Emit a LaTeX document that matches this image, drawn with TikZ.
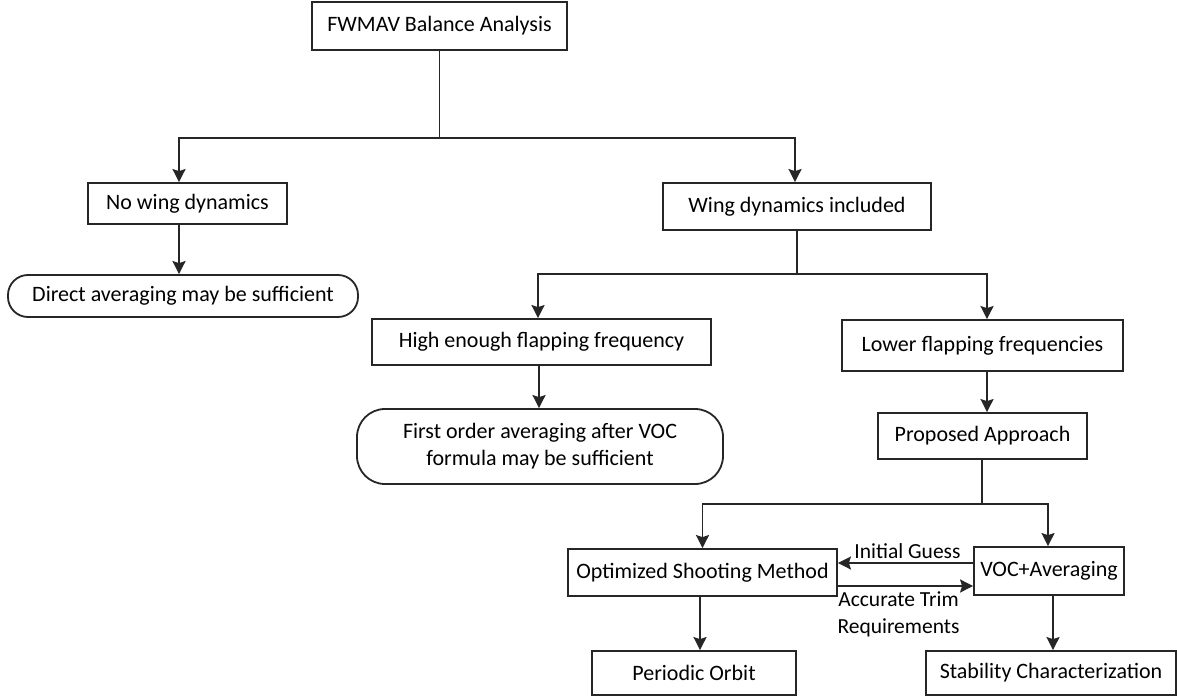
\documentclass[tikz,border=0pt]{standalone}
\usepackage{fontspec}
\setmainfont{Carlito}
\usetikzlibrary{arrows.meta,calc}
\begin{document}
\begin{tikzpicture}[x=1pt,y=-1pt,
  every node/.style={font=\fontsize{22}{27}\selectfont, inner sep=0pt, text=black},
  box/.style={draw=black!85, line width=1.8pt, fill=white, align=center},
  rbox/.style={box, rounded corners=20pt},
  conn/.style={draw=black!85, line width=1.8pt},
  arr/.style={conn, -{Stealth[length=13pt,width=13pt,inset=2pt]}},
  lbl/.style={font=\fontsize{21.5}{27}\selectfont, align=center}
]
\useasboundingbox[fill=white] (0,0) rectangle (1177,698);
% nodes
\node[box, minimum width=255pt, minimum height=48pt] (fw) at (439.5,26) {FWMAV Balance Analysis};
\node[box, minimum width=199pt, minimum height=41pt] (nowing) at (187.5,203.5) {No wing dynamics};
\node[rbox, minimum width=350pt, minimum height=42pt] (direct) at (183,296) {Direct averaging may be sufficient};
\node[box, minimum width=268pt, minimum height=47pt] (wdi) at (797,206.5) {Wing dynamics included};
\node[box, minimum width=339pt, minimum height=46pt] (high) at (541.5,342) {High enough flapping frequency};
\node[rbox, rounded corners=28pt, minimum width=366pt, minimum height=75pt] (first) at (540,446.5) {First order averaging after VOC\\formula may be sufficient};
\node[box, minimum width=281pt, minimum height=51pt] (lower) at (982.5,345.5) {Lower flapping frequencies};
\node[box, minimum width=209pt, minimum height=46pt] (prop) at (982.5,436) {Proposed Approach};
\node[box, minimum width=269pt, minimum height=47pt] (opt) at (702.5,572.5) {Optimized Shooting Method};
\node[box, minimum width=150pt, minimum height=48pt] (voc) at (1049,571) {VOC+Averaging};
\node[box, minimum width=204pt, minimum height=44pt] (per) at (694,673) {Periodic Orbit};
\node[box, minimum width=250pt, minimum height=44pt] (stab) at (1051,673) {Stability Characterization};
% junctions
\coordinate (j1) at (439.5,138);
\coordinate (j2) at (797,274);
\coordinate (j3) at (982,504);
% connectors
\draw[conn] (fw.south) -- (j1);
\draw[arr] (j1) -| ([xshift=-8.5pt]nowing.north);
\draw[arr] (j1) -| ([xshift=-2pt]wdi.north);
\draw[arr] ([xshift=-8.5pt]nowing.south) -- ([xshift=-8.5pt]nowing.south |- direct.north);
\draw[conn] (wdi.south) -- (j2);
\draw[arr] (j2) -| ([xshift=-3.5pt]high.north);
\draw[arr] (j2) -| ([xshift=4.5pt]lower.north);
\draw[arr] ([xshift=-2.5pt]high.south) -- ([xshift=-2.5pt]high.south |- first.north);
\draw[arr] ([xshift=4.5pt]lower.south) -- ([xshift=4.5pt]lower.south |- prop.north);
\draw[conn] (prop.south -| j3) -- (j3);
\draw[arr] (j3) -| (opt.north);
\draw[arr] (j3) -| ([xshift=-1pt]voc.north);
\draw[arr] (voc.west |- 0,563) -- node[lbl, above=3pt, xshift=2pt] (ig) {Initial Guess} (opt.east |- 0,563);
\draw[arr] (opt.east |- 0,586) -- node[lbl, below=5pt, xshift=-7pt] (atr) {Accurate Trim\\Requirements} (voc.west |- 0,586);
\draw[arr] ([xshift=-2.5pt]opt.south) -- ([xshift=-2.5pt]opt.south |- per.north);
\draw[arr] ([xshift=4pt]voc.south) -- ([xshift=4pt]voc.south |- stab.north);
\end{tikzpicture}
\end{document}
